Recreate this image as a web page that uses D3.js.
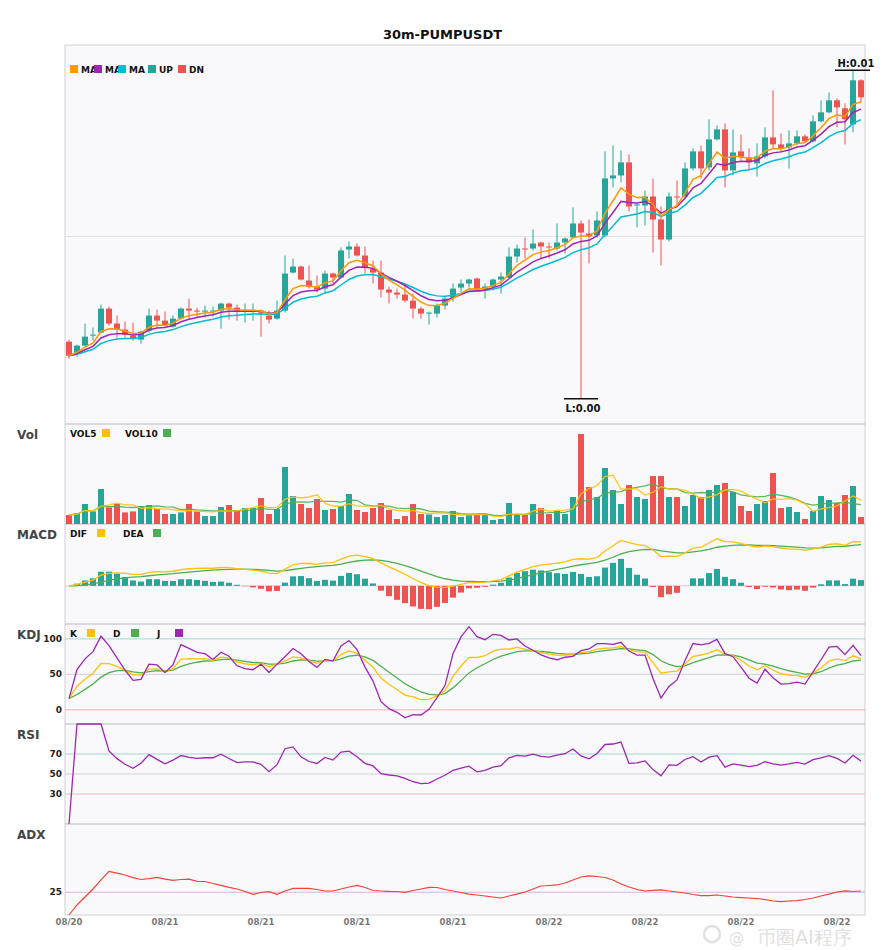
<!DOCTYPE html>
<html>
<head>
<meta charset="utf-8">
<script src="https://cdn.jsdelivr.net/npm/d3@7"></script>
<style>
  body { margin: 0; background: #fff; }
  text { font-family: "DejaVu Sans", sans-serif; }
</style>
</head>
<body>
<div id="chart"></div>
<script>
// 30m candles, PUMPUSDT
const open = [
  0.004475,0.004415,0.004455,0.004505,0.004520,0.004640,0.004565,0.004535,0.004505,0.004485,
  0.004530,0.004605,0.004580,0.004550,0.004590,0.004640,0.004630,0.004625,0.004625,0.004630,
  0.004665,0.004645,0.004625,0.004625,0.004630,0.004605,0.004590,0.004630,0.004820,0.004850,
  0.004780,0.004750,0.004740,0.004815,0.004795,0.004935,0.004950,0.004905,0.004840,0.004820,
  0.004735,0.004720,0.004710,0.004680,0.004640,0.004615,0.004615,0.004655,0.004695,0.004745,
  0.004765,0.004790,0.004735,0.004750,0.004785,0.004795,0.004900,0.004940,0.004940,0.004970,
  0.004950,0.004940,0.004970,0.004995,0.005065,0.005015,0.005005,0.005005,0.005290,0.005305,
  0.005370,0.005155,0.005155,0.005200,0.005085,0.004985,0.005200,0.005200,0.005340,0.005425,
  0.005345,0.005485,0.005535,0.005330,0.005425,0.005395,0.005365,0.005400,0.005495,0.005460,
  0.005445,0.005465,0.005500,0.005475,0.005575,0.005620,0.005680,0.005640,0.005560,0.005780
];
const high = [
  0.004485,0.004460,0.004565,0.004545,0.004660,0.004650,0.004605,0.004575,0.004570,0.004530,
  0.004640,0.004635,0.004625,0.004605,0.004645,0.004690,0.004645,0.004655,0.004650,0.004670,
  0.004670,0.004660,0.004665,0.004665,0.004635,0.004630,0.004680,0.004905,0.004890,0.004855,
  0.004855,0.004805,0.004830,0.004820,0.004945,0.004975,0.004965,0.004950,0.004880,0.004880,
  0.004750,0.004740,0.004755,0.004715,0.004650,0.004625,0.004665,0.004700,0.004765,0.004785,
  0.004790,0.004795,0.004765,0.004790,0.004820,0.004945,0.004960,0.004995,0.005035,0.004975,
  0.004970,0.005065,0.004995,0.005145,0.005080,0.005085,0.005125,0.005425,0.005455,0.005430,
  0.005410,0.005165,0.005230,0.005290,0.005150,0.005220,0.005280,0.005370,0.005440,0.005455,
  0.005585,0.005555,0.005565,0.005535,0.005510,0.005440,0.005465,0.005545,0.005730,0.005515,
  0.005530,0.005530,0.005510,0.005605,0.005680,0.005720,0.005690,0.005665,0.005830,0.005785
];
const low = [
  0.004390,0.004400,0.004450,0.004480,0.004515,0.004555,0.004495,0.004495,0.004480,0.004465,
  0.004520,0.004545,0.004545,0.004545,0.004585,0.004590,0.004595,0.004595,0.004600,0.004540,
  0.004585,0.004580,0.004570,0.004580,0.004500,0.004565,0.004585,0.004620,0.004815,0.004780,
  0.004740,0.004720,0.004715,0.004765,0.004790,0.004890,0.004900,0.004815,0.004765,0.004695,
  0.004665,0.004690,0.004670,0.004590,0.004590,0.004560,0.004595,0.004635,0.004675,0.004720,
  0.004745,0.004730,0.004690,0.004730,0.004715,0.004790,0.004870,0.004890,0.004930,0.004885,
  0.004890,0.004930,0.004915,0.004990,0.004190,0.004865,0.004995,0.004995,0.005245,0.005270,
  0.005125,0.005045,0.005055,0.004920,0.004855,0.004975,0.005145,0.005190,0.005330,0.005290,
  0.005330,0.005480,0.005245,0.005305,0.005380,0.005330,0.005300,0.005390,0.005440,0.005420,
  0.005340,0.005455,0.005470,0.005470,0.005570,0.005615,0.005545,0.005460,0.005520,0.005670
];
const close = [
  0.004405,0.004455,0.004500,0.004510,0.004640,0.004565,0.004535,0.004510,0.004490,0.004525,
  0.004605,0.004580,0.004555,0.004590,0.004640,0.004630,0.004625,0.004630,0.004630,0.004665,
  0.004645,0.004625,0.004630,0.004630,0.004620,0.004585,0.004630,0.004815,0.004850,0.004785,
  0.004750,0.004735,0.004815,0.004795,0.004930,0.004950,0.004905,0.004845,0.004820,0.004735,
  0.004720,0.004710,0.004680,0.004640,0.004615,0.004620,0.004655,0.004690,0.004740,0.004765,
  0.004785,0.004735,0.004750,0.004785,0.004800,0.004900,0.004940,0.004935,0.004965,0.004950,
  0.004945,0.004970,0.004990,0.005065,0.005020,0.005000,0.005080,0.005290,0.005305,0.005370,
  0.005150,0.005160,0.005200,0.005085,0.004985,0.005200,0.005195,0.005340,0.005425,0.005340,
  0.005485,0.005535,0.005330,0.005420,0.005395,0.005370,0.005400,0.005495,0.005460,0.005440,
  0.005465,0.005500,0.005475,0.005575,0.005620,0.005680,0.005645,0.005585,0.005780,0.005695
];
// volume, millions
const volume = [
  9, 11, 20, 12.6, 35, 16.6, 20, 11.6, 12.6, 18,
  19, 15, 10, 10, 11.6, 20, 12.6, 8, 8, 17,
  19, 14, 16, 16, 26, 10, 15, 57, 28, 20,
  16, 25, 14, 15, 18, 30, 14, 12, 16, 21,
  14, 5, 8, 20, 10, 9.6, 7, 9, 13, 7,
  9, 9, 10, 4, 5, 21, 9, 9, 20, 16,
  10, 13, 10, 27, 90, 37, 27, 56, 34, 20,
  39, 27, 25, 48, 48, 27, 27, 18, 29, 27,
  34, 39, 41, 32, 18, 13, 20, 23, 51, 16,
  17, 12, 5, 13, 28, 24, 21, 29, 38, 7
];
// ADX
const adx = [
  0, 11, 19.8, 28.6, 38.5, 48, 46, 44, 41, 39,
  40, 41.4, 39.5, 38, 39, 39.5, 37, 36.8, 34.6, 32.6,
  30.4, 28.6, 25.8, 22.7, 24.7, 25.6, 22.7, 26.4, 29.3, 29.3,
  29.3, 28, 26.4, 26.4, 28.6, 30.8, 32.6, 30.2, 26.9, 26.4,
  26, 25.8, 24.9, 26.9, 28.6, 30.4, 30.2, 28, 26.4, 24.7,
  23, 22, 20.9, 19.8, 18.7, 20.9, 23, 25.3, 28.6, 31.9,
  32.4, 33, 35.2, 38.5, 41.8, 42.9, 42.3, 41.2, 38.5, 34,
  30.8, 28, 26.4, 27, 27.5, 26.4, 25.3, 24.2, 22.5, 21.4,
  21.4, 22, 20.9, 19.8, 19.2, 18.7, 18.1, 17, 15.4, 14.8,
  15.4, 15.9, 17, 18.7, 20.9, 23, 25.3, 26.4, 25.8, 26.4
];
// moving-average spans of the three price lines
const maSpans = [5, 8, 13];
// one date label every 12 candles (6 hours)
const dateLabels = ["08/20", "08/21", "08/21", "08/21", "08/21", "08/22", "08/22", "08/22", "08/22"];
const labelEvery = 12;

const N = close.length;
const idx = d3.range(N);

// ---- indicators computed from the candles ----
function ma(arr, n) {
  return arr.map((d, i) => d3.mean(arr.slice(Math.max(0, i - n + 1), i + 1)));
}
function ema(arr, n) {
  const k = 2 / (n + 1);
  const out = [];
  arr.forEach((d, i) => out.push(i === 0 ? d : out[i - 1] + k * (d - out[i - 1])));
  return out;
}
const [maFast, maMid, maSlow] = maSpans.map(n => ema(close, n));
const vol5 = ma(volume, 5), vol10 = ma(volume, 10);

const ema12 = ema(close, 12), ema26 = ema(close, 26);
const dif = idx.map(i => ema12[i] - ema26[i]);
const dea = ema(dif, 9);
const macd = idx.map(i => 2 * (dif[i] - dea[i]));

const kLine = [], dLine = [], jLine = [];
idx.forEach(i => {
  const s = Math.max(0, i - 8);
  const hh = d3.max(high.slice(s, i + 1)), ll = d3.min(low.slice(s, i + 1));
  const rsv = hh === ll ? 50 : (close[i] - ll) / (hh - ll) * 100;
  const k = i === 0 ? rsv : (2 * kLine[i - 1] + rsv) / 3;
  const d = i === 0 ? rsv : (2 * dLine[i - 1] + k) / 3;
  kLine.push(k); dLine.push(d); jLine.push(3 * k - 2 * d);
});

const rsi = [0];
let ag = 0, al = 0;
for (let i = 1; i < N; i++) {
  const ch = close[i] - close[i - 1];
  ag = (ag * 13 + Math.max(ch, 0)) / 14;
  al = (al * 13 + Math.max(-ch, 0)) / 14;
  rsi.push(ag + al === 0 ? 0 : 100 * ag / (ag + al));
}

// ---- layout ----
const width = 885, height = 950;
const left = 65, right = 865;
const panels = {
  main: [45, 424], vol: [424, 524], macd: [524, 624],
  kdj: [624, 724], rsi: [724, 824], adx: [824, 915]
};

const UP = "#26a69a", DN = "#ef5350";
const ORANGE = "#ff9800", PURPLE = "#9c27b0", CYAN = "#00bcd4";
const YELLOW = "#ffc107", GREEN = "#4caf50", ADXRED = "#f44336";

const svg = d3.select("#chart").append("svg")
  .attr("width", width).attr("height", height)
  .style("background", "#fff");

const x = d3.scaleBand().domain(idx).range([left, right]).paddingInner(0.25).paddingOuter(0.125);
const cx = i => x(i) + x.bandwidth() / 2;

// panel backgrounds + frames
Object.values(panels).forEach(([t, b]) => {
  svg.append("rect").attr("x", left).attr("y", t).attr("width", right - left).attr("height", b - t)
    .attr("fill", "#f9f9fb");
});
svg.append("rect").attr("x", left).attr("y", panels.main[0]).attr("width", right - left)
  .attr("height", panels.adx[1] - panels.main[0])
  .attr("fill", "none").attr("stroke", "#cfcfd6").attr("stroke-width", 1);
["vol", "macd", "kdj", "rsi", "adx"].forEach(p => {
  svg.append("line").attr("x1", left).attr("x2", right)
    .attr("y1", panels[p][0]).attr("y2", panels[p][0])
    .attr("stroke", "#b8b8c0").attr("stroke-width", 1);
});

// title
svg.append("text").attr("x", width / 2).attr("y", 39).attr("text-anchor", "middle")
  .attr("font-size", 13).attr("font-weight", "bold").attr("fill", "#111")
  .text("30m-PUMPUSDT");

// panel names
[["Vol", "vol"], ["MACD", "macd"], ["KDJ", "kdj"], ["RSI", "rsi"], ["ADX", "adx"]].forEach(([name, p]) => {
  svg.append("text").attr("x", 17).attr("y", panels[p][0] + 15)
    .attr("font-size", 12).attr("font-weight", "bold").attr("fill", "#444").text(name);
});

// ---- main price panel ----
const hiAll = d3.max(high), loAll = d3.min(low);
const pad = (hiAll - loAll) * 0.077;
const y = d3.scaleLinear().domain([loAll - pad, hiAll + pad]).range([panels.main[1], panels.main[0]]);

svg.append("g").selectAll("line").data(y.ticks(2)).join("line")
  .attr("x1", left).attr("x2", right).attr("y1", d => y(d)).attr("y2", d => y(d))
  .attr("stroke", "#e0e0e4");

const candles = svg.append("g");
candles.selectAll("line").data(idx).join("line")
  .attr("x1", cx).attr("x2", cx)
  .attr("y1", i => y(high[i])).attr("y2", i => y(low[i]))
  .attr("stroke", i => close[i] >= open[i] ? UP : DN).attr("stroke-width", 1);
candles.selectAll("rect").data(idx).join("rect")
  .attr("x", i => x(i)).attr("width", x.bandwidth())
  .attr("y", i => y(Math.max(open[i], close[i])))
  .attr("height", i => Math.max(1, Math.abs(y(open[i]) - y(close[i]))))
  .attr("fill", i => close[i] >= open[i] ? UP : DN);

const lineOf = (arr, scale) => d3.line().x(i => cx(i)).y(i => scale(arr[i]))(idx);
[[maSlow, CYAN], [maMid, PURPLE], [maFast, ORANGE]].forEach(([arr, c]) => {
  svg.append("path").attr("d", lineOf(arr, y)).attr("fill", "none")
    .attr("stroke", c).attr("stroke-width", 1.5);
});

// high / low markers
const iHi = d3.maxIndex(high), iLo = d3.minIndex(low);
svg.append("line").attr("x1", cx(iHi) - 18).attr("x2", cx(iHi) + 17)
  .attr("y1", y(high[iHi])).attr("y2", y(high[iHi])).attr("stroke", "#111").attr("stroke-width", 1.5);
svg.append("text").attr("x", cx(iHi) + 3).attr("y", y(high[iHi]) - 3).attr("text-anchor", "middle")
  .attr("font-size", 10).attr("font-weight", "bold").attr("fill", "#111")
  .text("H:" + high[iHi].toFixed(2));
svg.append("line").attr("x1", cx(iLo) - 17).attr("x2", cx(iLo) + 17)
  .attr("y1", y(low[iLo])).attr("y2", y(low[iLo])).attr("stroke", "#111").attr("stroke-width", 1.5);
svg.append("text").attr("x", cx(iLo) + 2).attr("y", y(low[iLo]) + 13).attr("text-anchor", "middle")
  .attr("font-size", 10).attr("font-weight", "bold").attr("fill", "#111")
  .text("L:" + low[iLo].toFixed(2));

// main legend: square then label
const mainLegend = [["MA", ORANGE, 24], ["MA", PURPLE, 24], ["MA", CYAN, 30], ["UP", UP, 30], ["DN", DN, 30]];
let lx = 70;
mainLegend.forEach(([t, c, w]) => {
  svg.append("rect").attr("x", lx).attr("y", 65).attr("width", 8).attr("height", 8).attr("fill", c);
  svg.append("text").attr("x", lx + 11).attr("y", 72.5).attr("font-size", 9)
    .attr("font-weight", "bold").attr("fill", "#111").text(t);
  lx += w;
});

// legend for lower panels: label then square
function subLegend(top, items) {
  items.forEach(([t, c, tx, sx]) => {
    svg.append("text").attr("x", tx).attr("y", top + 12.5).attr("font-size", 9)
      .attr("font-weight", "bold").attr("fill", "#111").text(t);
    svg.append("rect").attr("x", sx).attr("y", top + 5).attr("width", 8).attr("height", 8).attr("fill", c);
  });
}
function tickLabel(v, yy) {
  svg.append("text").attr("x", 62).attr("y", yy + 3).attr("text-anchor", "end")
    .attr("font-size", 9).attr("font-weight", "bold").attr("fill", "#222").text(v);
}

// ---- volume ----
const yVol = d3.scaleLinear().domain([0, d3.max(volume) / 0.9]).range([panels.vol[1], panels.vol[0]]);
svg.append("g").selectAll("rect").data(idx).join("rect")
  .attr("x", i => x(i)).attr("width", x.bandwidth())
  .attr("y", i => yVol(volume[i])).attr("height", i => yVol(0) - yVol(volume[i]))
  .attr("fill", i => close[i] >= open[i] ? UP : DN);
[[vol10, GREEN], [vol5, YELLOW]].forEach(([arr, c]) => {
  svg.append("path").attr("d", lineOf(arr, yVol)).attr("fill", "none")
    .attr("stroke", c).attr("stroke-width", 1.3).attr("opacity", 0.9);
});
subLegend(panels.vol[0], [["VOL5", YELLOW, 70, 102], ["VOL10", GREEN, 125, 163]]);

// ---- MACD ----
const mMin = d3.min([...dif, ...dea, ...macd]), mMax = d3.max([...dif, ...dea, ...macd]);
const mPad = (mMax - mMin) * 0.21;
const yMacd = d3.scaleLinear().domain([mMin - mPad, mMax + mPad]).range([panels.macd[1], panels.macd[0]]);
svg.append("line").attr("x1", left).attr("x2", right).attr("y1", yMacd(0)).attr("y2", yMacd(0))
  .attr("stroke", "#d4d4d8");
svg.append("g").selectAll("rect").data(idx).join("rect")
  .attr("x", i => x(i)).attr("width", x.bandwidth())
  .attr("y", i => yMacd(Math.max(0, macd[i])))
  .attr("height", i => Math.abs(yMacd(macd[i]) - yMacd(0)))
  .attr("fill", i => macd[i] >= 0 ? UP : DN);
[[dea, GREEN], [dif, YELLOW]].forEach(([arr, c]) => {
  svg.append("path").attr("d", lineOf(arr, yMacd)).attr("fill", "none")
    .attr("stroke", c).attr("stroke-width", 1.3);
});
subLegend(panels.macd[0], [["DIF", YELLOW, 70, 97], ["DEA", GREEN, 123, 153]]);

// ---- KDJ ----
const yKdj = d3.scaleLinear().domain([-20, 121]).range([panels.kdj[1], panels.kdj[0]]);
const refColors = ["#a3d5cf", "#d2d2d6", "#f3b4b4"];
[100, 50, 0].forEach((v, k) => {
  svg.append("line").attr("x1", left).attr("x2", right).attr("y1", yKdj(v)).attr("y2", yKdj(v))
    .attr("stroke", refColors[k]);
  tickLabel(v, yKdj(v));
});
[[dLine, GREEN], [kLine, YELLOW], [jLine, PURPLE]].forEach(([arr, c]) => {
  svg.append("path").attr("d", lineOf(arr, yKdj)).attr("fill", "none")
    .attr("stroke", c).attr("stroke-width", 1.3);
});
subLegend(panels.kdj[0], [["K", YELLOW, 70, 87], ["D", GREEN, 113, 131], ["J", PURPLE, 157, 175]]);

// ---- RSI ----
const yRsi = d3.scaleLinear().domain([0, 100]).range([panels.rsi[1], panels.rsi[0]]);
[70, 50, 30].forEach((v, k) => {
  svg.append("line").attr("x1", left).attr("x2", right).attr("y1", yRsi(v)).attr("y2", yRsi(v))
    .attr("stroke", refColors[k]);
  tickLabel(v, yRsi(v));
});
svg.append("path").attr("d", lineOf(rsi, yRsi)).attr("fill", "none")
  .attr("stroke", PURPLE).attr("stroke-width", 1.3);

// ---- ADX ----
const yAdx = d3.scaleLinear().domain([0, 100]).range([panels.adx[1], panels.adx[0]]);
svg.append("line").attr("x1", left).attr("x2", right).attr("y1", yAdx(25)).attr("y2", yAdx(25))
  .attr("stroke", "#dcb2e6");
tickLabel(25, yAdx(25));
svg.append("path").attr("d", lineOf(adx, yAdx)).attr("fill", "none")
  .attr("stroke", ADXRED).attr("stroke-width", 1.2);

// ---- x axis labels ----
svg.append("g").selectAll("text").data(dateLabels).join("text")
  .attr("x", (d, k) => cx(k * labelEvery)).attr("y", 925).attr("text-anchor", "middle")
  .attr("font-size", 8.5).attr("font-weight", "bold").attr("fill", "#777").text(d => d);

// watermark
const wm = svg.append("g").attr("opacity", 0.3);
wm.append("circle").attr("cx", 712).attr("cy", 934).attr("r", 8)
  .attr("fill", "none").attr("stroke", "#999").attr("stroke-width", 2.5);
wm.append("text").attr("x", 729).attr("y", 943).attr("font-size", 15).attr("fill", "#999").text("@");
wm.append("text").attr("x", 757).attr("y", 944)
  .attr("font-family", "'Noto Sans CJK SC', sans-serif").attr("font-size", 19)
  .attr("fill", "#999").text("币圈AI程序");
</script>
</body>
</html>
